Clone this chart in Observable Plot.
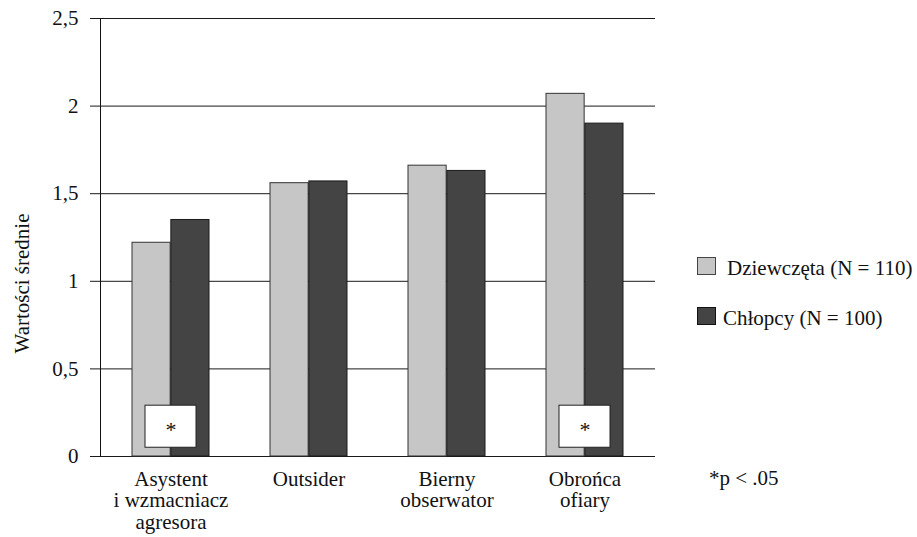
<!DOCTYPE html>
<html>
<head>
<meta charset="utf-8">
<script src="https://cdn.jsdelivr.net/npm/d3@7"></script>
<script src="https://cdn.jsdelivr.net/npm/@observablehq/plot@0.6"></script>
<style>
  html, body { margin: 0; padding: 0; background: #fff; }
  #wrap { position: relative; width: 917px; height: 537px; font-family: "Liberation Serif", "DejaVu Serif", serif; color: #111; }
  .sw { position: absolute; box-sizing: border-box; border: 1px solid #333; }
  .lt { position: absolute; font-size: 21px; line-height: 21px; white-space: nowrap; }
</style>
</head>
<body>
<div id="wrap"></div>
<script>
const categories = ["Asystent\ni wzmacniacz\nagresora", "Outsider", "Bierny\nobserwator", "Obrońca\nofiary"];
const girls = [1.22, 1.56, 1.66, 2.07];
const boys = [1.35, 1.57, 1.63, 1.90];
const seriesNames = ["Dziewczęta (N = 110)", "Chłopcy (N = 100)"];
const seriesColors = ["#c6c6c6", "#444444"];
const yTicks = [0, 0.5, 1, 1.5, 2, 2.5];
const yLabel = "Wartości średnie";
const starCategories = [categories[0], categories[3]];
const starLow = 0.05, starHigh = 0.29;
const note = "*p < .05";

const W = 917, H = 537, mL = 100, mR = 262, mT = 18, mB = 81;
const padInner = 0.44;
const step = (W - mL - mR) / categories.length;
const half = step * (1 - padInner) / 2;

const girlsData = categories.map((c, i) => ({cat: c, v: girls[i]}));
const boysData = categories.map((c, i) => ({cat: c, v: boys[i]}));
const stars = starCategories.map(c => ({cat: c, lo: starLow, hi: starHigh, mid: (starLow + starHigh) / 2}));

const chart = Plot.plot({
  width: W, height: H,
  marginLeft: mL, marginRight: mR, marginTop: mT, marginBottom: mB,
  style: {fontFamily: "Liberation Serif", fontSize: "21px", color: "#111", background: "#fff"},
  x: {domain: categories, paddingInner: padInner, paddingOuter: padInner / 2, axis: null},
  y: {domain: [0, 2.5], axis: null},
  marks: [
    Plot.ruleY(yTicks, {stroke: "#1a1a1a", strokeWidth: 1}),
    Plot.frame({anchor: "left", stroke: "#111"}),
    Plot.axisY({ticks: yTicks, tickFormat: d => String(d).replace(".", ","), tickSize: 10, tickPadding: 12, fontSize: 21, label: null, stroke: "#1a1a1a"}),
    Plot.axisX({tickSize: 0, tickPadding: 14, fontSize: 21, lineHeight: 1.03, label: null}),
    Plot.barY(girlsData, {x: "cat", y: "v", fill: seriesColors[0], stroke: "#333", strokeWidth: 1, insetRight: half}),
    Plot.barY(boysData, {x: "cat", y: "v", fill: seriesColors[1], stroke: "#1a1a1a", strokeWidth: 1, insetLeft: half}),
    Plot.barY(stars, {x: "cat", y1: "lo", y2: "hi", fill: "#fff", stroke: "#222", strokeWidth: 1, insetLeft: 13, insetRight: 13}),
    Plot.text(stars, {x: "cat", y: "mid", text: () => "*", fontSize: 22, dy: 3}),
    Plot.text([yLabel], {frameAnchor: "left", textAnchor: "middle", dx: -78, dy: 46, rotate: -90, fontSize: 21})
  ]
});

const wrap = document.getElementById("wrap");
wrap.appendChild(chart);

function add(html) { wrap.insertAdjacentHTML("beforeend", html); }
add(`<div class="sw" style="left:697px;top:257px;width:19px;height:18px;background:${seriesColors[0]};border-color:#444"></div>`);
add(`<div class="lt" style="left:727px;top:258px">${seriesNames[0]}</div>`);
add(`<div class="sw" style="left:697px;top:307px;width:19px;height:18px;background:${seriesColors[1]};border-color:#111"></div>`);
add(`<div class="lt" style="left:723px;top:308px">${seriesNames[1]}</div>`);
add(`<div class="lt" style="left:709px;top:468px">${note}</div>`);
</script>
</body>
</html>
